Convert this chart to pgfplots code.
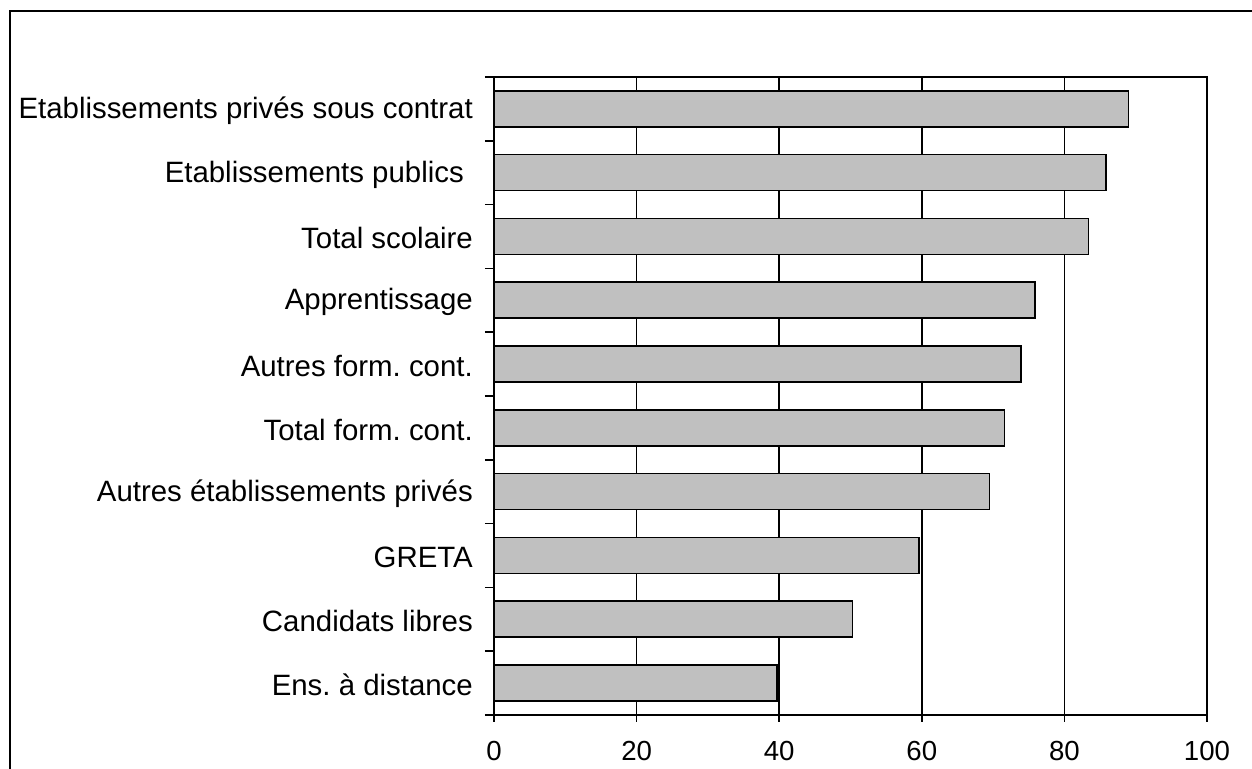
\documentclass[border=0pt]{standalone}
\usepackage{pgfplots}
\pgfplotsset{compat=1.18}
\usepackage{fontspec}
\setmainfont{Liberation Sans}
\definecolor{barfill}{HTML}{C0C0C0}
\begin{document}
\frenchspacing
\fontsize{14.7}{17}\selectfont
\begin{tikzpicture}
\useasboundingbox (0pt,0pt) rectangle (626pt,384.5pt);
\draw[line width=1pt] (5pt,-10pt) rectangle (640pt,379pt);
\begin{axis}[
  at={(247pt,27pt)}, anchor=south west,
  scale only axis, width=356.5pt, height=319pt,
  xbar, bar width=18pt,
  xmin=0, xmax=100, ymin=-0.5, ymax=9.5,
  xtick={0,20,...,100},
  ytick={0,...,9},
  yticklabels={Ens. à distance, Candidats libres, GRETA, Autres établissements privés, Total form. cont., Autres form. cont., Apprentissage, Total scolaire, Etablissements publics\hspace*{4.5pt}, Etablissements privés sous contrat},
  minor ytick={-0.5,0.5,...,9.5},
  tick align=outside,
  tick pos=left,
  major tick length=3.5pt,
  major y tick style={draw=none},
  minor tick length=4.5pt,
  tick style={black, line width=0.8pt},
  xmajorgrids, major grid style={black, line width=0.8pt},
  axis line style={line width=1pt},
  /pgf/number format/assume math mode=true,
  yticklabel style={font=\fontsize{14.7}{17}\selectfont\frenchspacing, xshift=-2pt, yshift=-1pt},
  xticklabel style={font=\fontsize{13.8}{16}\selectfont, yshift=-4.5pt},
]
\addplot[draw=black, line width=0.8pt, fill=barfill] coordinates {
 (39.7,0) (50.3,1) (59.6,2) (69.5,3) (71.6,4) (73.9,5) (75.9,6) (83.4,7) (85.8,8) (89.0,9)
};
\end{axis}
\end{tikzpicture}
\end{document}
